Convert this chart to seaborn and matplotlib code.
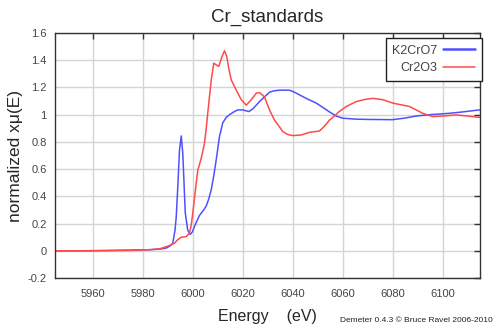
import numpy as np
import pandas as pd
import matplotlib
matplotlib.use("Agg")
import matplotlib.pyplot as plt
import seaborn as sns

# K2CrO7 normalized absorption
k2cro7_energy = [5945, 5955, 5965, 5975, 5983, 5987, 5989.5, 5991, 5992.1, 5993,
                 5993.5, 5994.2, 5994.8, 5995.5, 5996.1, 5996.6, 5997.1, 5998.1,
                 5999.1, 6000.0, 6000.8, 6002.8, 6004.5, 6005.5, 6006.5, 6007.5,
                 6008.5, 6009.5, 6010.8, 6012.1, 6013.5, 6014.8, 6016.5, 6018.1,
                 6020.1, 6022.5, 6024, 6025.5, 6027, 6028.8, 6030.8, 6032.5, 6035,
                 6038.8, 6040.8, 6042.8, 6046, 6049.5, 6052, 6054.8, 6057.5, 6060.1,
                 6065.5, 6070, 6076.1, 6080, 6085, 6089.5, 6095, 6102.8, 6108, 6114.8]
k2cro7_mu = [0.0, 0.0, 0.002, 0.005, 0.008, 0.012, 0.02, 0.035, 0.055, 0.15,
             0.25, 0.5, 0.74, 0.844, 0.72, 0.5, 0.28, 0.15,
             0.12, 0.14, 0.18, 0.26, 0.3, 0.33, 0.38, 0.45,
             0.55, 0.67, 0.84, 0.94, 0.98, 1.0, 1.02, 1.035,
             1.035, 1.023, 1.04, 1.07, 1.1, 1.13, 1.165, 1.175, 1.18,
             1.18, 1.165, 1.145, 1.115, 1.085, 1.055, 1.02, 0.99, 0.974,
             0.967, 0.965, 0.964, 0.963, 0.975, 0.99, 1.0, 1.01, 1.02, 1.035]

# Cr2O3 normalized absorption
cr2o3_energy = [5945, 5960, 5975, 5983, 5987, 5989.5, 5991, 5992.8, 5994, 5995.5,
                5997.5, 5998.8, 5999.5, 6000.1, 6001, 6002.1, 6003.5, 6004.8,
                6005.5, 6006.1, 6007.5, 6008.5, 6009.5, 6010.5, 6011.8, 6012.8,
                6013.7, 6014.5, 6015.5, 6017.5, 6019.5, 6021.5, 6023.5, 6025.5,
                6026.8, 6028.8, 6030.8, 6032.8, 6034.8, 6036.1, 6038, 6040.1,
                6043.5, 6046.8, 6050.8, 6053, 6054.8, 6056.1, 6058.5, 6061.5,
                6065.5, 6069, 6072.1, 6076.1, 6080.1, 6086.8, 6092.1, 6096.1,
                6100.1, 6105.5, 6110, 6114.8]
cr2o3_mu = [0.0, 0.0, 0.003, 0.008, 0.015, 0.03, 0.04, 0.055, 0.08, 0.1,
            0.104, 0.13, 0.19, 0.275, 0.42, 0.59, 0.68, 0.79,
            0.9, 1.01, 1.256, 1.378, 1.366, 1.354, 1.427, 1.47,
            1.427, 1.34, 1.256, 1.18, 1.11, 1.07, 1.11, 1.158,
            1.163, 1.13, 1.035, 0.96, 0.91, 0.876, 0.855, 0.846,
            0.851, 0.87, 0.88, 0.92, 0.96, 0.98, 1.02, 1.06,
            1.096, 1.112, 1.12, 1.11, 1.085, 1.06, 1.01, 0.986,
            0.99, 0.998, 0.99, 0.98]

series_names = ["K2CrO7", "Cr2O3"]
series_colors = ["#5050ff", "#ff4a4a"]

x_ticks = [5960, 5980, 6000, 6020, 6040, 6060, 6080, 6100]
y_ticks = [-0.2, 0, 0.2, 0.4, 0.6, 0.8, 1, 1.2, 1.4, 1.6]
y_tick_labels = ["-0.2", "0", "0.2", "0.4", "0.6", "0.8", "1", "1.2", "1.4", "1.6"]

df = pd.concat([
    pd.DataFrame({"energy": k2cro7_energy, "mu": k2cro7_mu, "standard": series_names[0]}),
    pd.DataFrame({"energy": cr2o3_energy, "mu": cr2o3_mu, "standard": series_names[1]}),
], ignore_index=True)

sns.set_style("white")
plt.rcParams["font.family"] = ["Liberation Sans", "DejaVu Sans"]

fig = plt.figure(figsize=(4.96, 3.26), dpi=100)
ax = fig.add_axes([55 / 496, 1 - 278 / 326, 425 / 496, 245 / 326])

sns.lineplot(data=df, x="energy", y="mu", hue="standard", hue_order=series_names,
             palette=series_colors, linewidth=1.1, sort=False, estimator=None,
             ax=ax, legend=False)

ax.set_xlim(5945, 6115)
ax.set_ylim(-0.2, 1.6)
ax.set_xticks(x_ticks)
ax.set_yticks(y_ticks)
ax.set_yticklabels(y_tick_labels)
ax.grid(True, color="#d4d4d4", linewidth=1.0)
ax.set_axisbelow(True)
ax.tick_params(direction="in", length=4, width=1, color="#333333",
               top=True, right=True, labelsize=8, labelcolor="#444444")
ax.tick_params(axis="x", pad=8)
ax.tick_params(axis="y", pad=6)
for sp in ax.spines.values():
    sp.set_color("#333333")
    sp.set_linewidth(1.0)

ax.set_title("Cr_standards", fontsize=13.5, pad=8)
ax.set_xlabel("Energy    (eV)", fontsize=11.5)
ax.xaxis.set_label_coords(0.5, -0.125)
ax.set_ylabel("normalized x\u03bc(E)", fontsize=12.5)
ax.yaxis.set_label_coords(-0.075, 0.5)

handles = [plt.Line2D([], [], color=series_colors[0], linewidth=1.8),
           plt.Line2D([], [], color=series_colors[1], linewidth=1.1)]
leg = ax.legend(handles, series_names, loc="upper right", bbox_to_anchor=(1.005, 0.98),
                borderaxespad=0, markerfirst=False, fontsize=9, fancybox=False,
                framealpha=1, edgecolor="#222222", handlelength=2.6,
                labelspacing=0.45, borderpad=0.55, handletextpad=0.4)
leg.get_frame().set_linewidth(1.0)
for t in leg.get_texts():
    t.set_color("#444444")

fig.text(493 / 496, 1 - 320 / 326, "Demeter 0.4.3 \u00a9 Bruce Ravel 2006-2010",
         ha="right", va="center", fontsize=6, color="#222222")

fig.savefig("out.png", dpi=100)
